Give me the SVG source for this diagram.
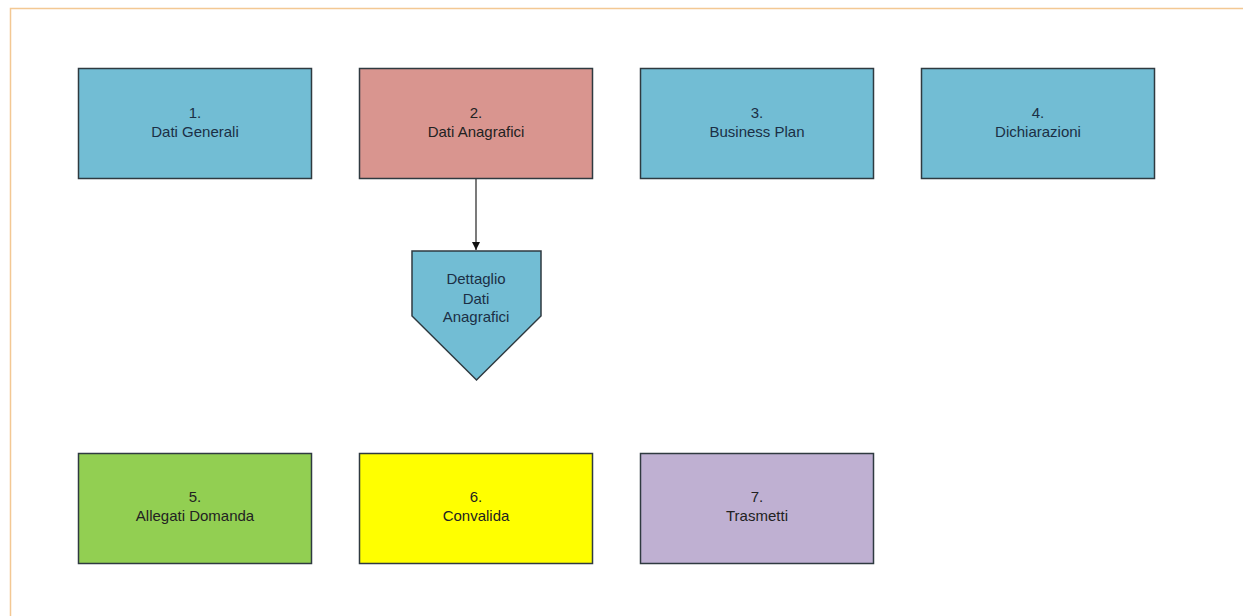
<svg xmlns="http://www.w3.org/2000/svg" width="1243" height="616" viewBox="0 0 1243 616">
<style>
.box{stroke:#2f3a40;stroke-width:1.5}
.t{font-family:"Liberation Sans",Arial,sans-serif;font-size:15px;text-anchor:middle}
.tb{fill:#1b2f45}
.td{fill:#222}
</style>
<defs>
<marker id="arr" markerWidth="10" markerHeight="10" refX="9" refY="5" orient="auto" markerUnits="userSpaceOnUse">
<path d="M1,1 L9,5 L1,9 Z" fill="#111"/>
</marker>
</defs>
<rect width="1243" height="616" fill="#fff"/>
<path d="M10.5,616 V8.5 H1243" fill="none" stroke="#f3c893" stroke-width="1.5"/>
<g id="connectors">
<line x1="476" y1="179" x2="476" y2="250" stroke="#222" stroke-width="1.2" marker-end="url(#arr)"/>
</g>
<g id="n1"><rect class="box" x="78.5" y="68.5" width="233" height="110" fill="#72bdd4"/><text class="t tb" x="195" y="118">1.</text><text class="t tb" x="195" y="137">Dati Generali</text></g>
<g id="n2"><rect class="box" x="359.5" y="68.5" width="233" height="110" fill="#d9958f"/><text class="t td" x="476" y="118">2.</text><text class="t td" x="476" y="137">Dati Anagrafici</text></g>
<g id="n3"><rect class="box" x="640.5" y="68.5" width="233" height="110" fill="#72bdd4"/><text class="t tb" x="757" y="118">3.</text><text class="t tb" x="757" y="137">Business Plan</text></g>
<g id="n4"><rect class="box" x="921.5" y="68.5" width="233" height="110" fill="#72bdd4"/><text class="t tb" x="1038" y="118">4.</text><text class="t tb" x="1038" y="137">Dichiarazioni</text></g>
<g id="n2a"><path class="box" d="M412,251 H541 V316 L476.5,380 L412,316 Z" fill="#72bdd4"/><text class="t tb" x="476" y="284">Dettaglio</text><text class="t tb" x="476" y="304">Dati</text><text class="t tb" x="476" y="322">Anagrafici</text></g>
<g id="n5"><rect class="box" x="78.5" y="453.5" width="233" height="110" fill="#92cf52"/><text class="t td" x="195" y="502">5.</text><text class="t td" x="195" y="521">Allegati Domanda</text></g>
<g id="n6"><rect class="box" x="359.5" y="453.5" width="233" height="110" fill="#ffff00"/><text class="t td" x="476" y="502">6.</text><text class="t td" x="476" y="521">Convalida</text></g>
<g id="n7"><rect class="box" x="640.5" y="453.5" width="233" height="110" fill="#bfb0d2"/><text class="t td" x="757" y="502">7.</text><text class="t td" x="757" y="521">Trasmetti</text></g>
</svg>
